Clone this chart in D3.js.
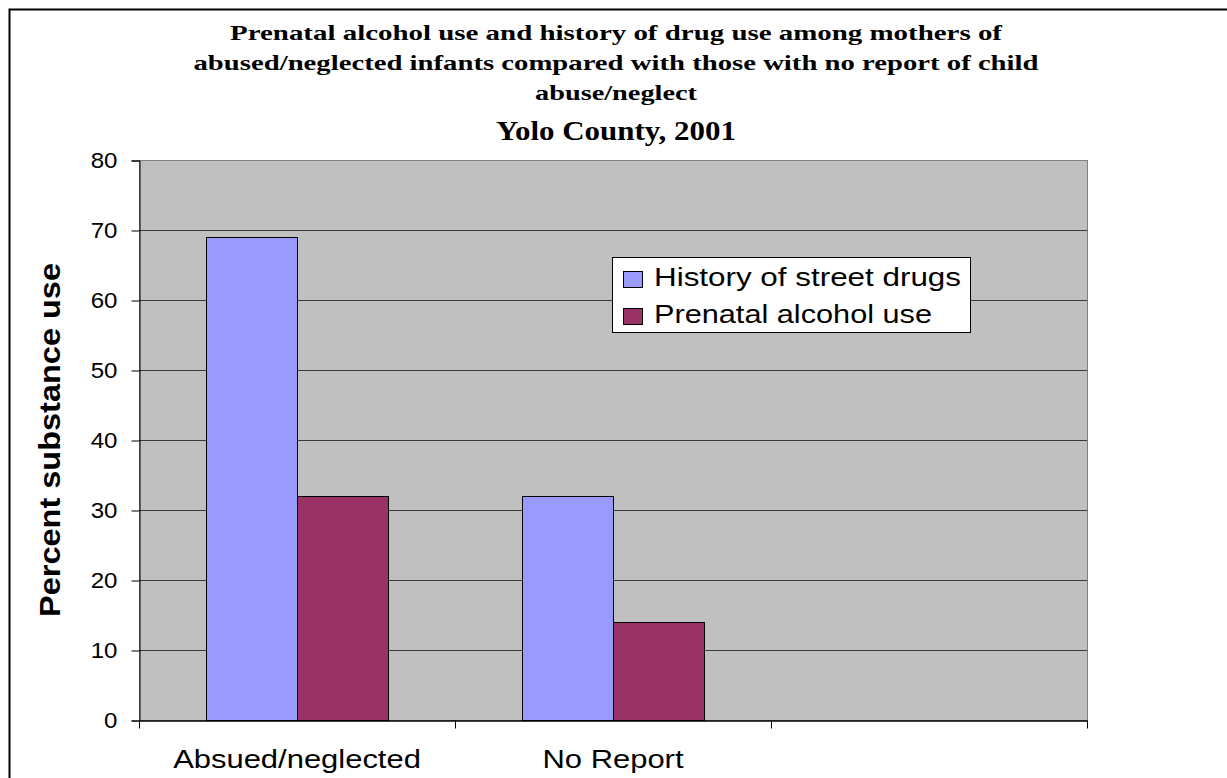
<!DOCTYPE html>
<meta charset="utf-8">
<style>
body { margin: 0; background: #fff; }
svg text { font-family: Arial, "Liberation Sans", sans-serif; fill: #000; }
.title { font-family: "Times New Roman", "Liberation Serif", serif; font-weight: bold; }
</style>
<svg width="1227" height="778"></svg>
<script src="https://d3js.org/d3.v7.min.js"></script>
<script>

var categories = ["Absued/neglected", "No Report", ""];
var series = ["History of street drugs", "Prenatal alcohol use"];
var drugs = [69, 32, null];
var alcohol = [32, 14, null];
var yTicks = [0, 10, 20, 30, 40, 50, 60, 70, 80];
var titleLines = [
  "Prenatal alcohol use and history of drug use among mothers of",
  "abused/neglected infants compared with those with no report of child",
  "abuse/neglect",
  "Yolo County, 2001"
];
var colors = ["#9999FF", "#993366"];

// text in the picture is stretched sideways a bit
var stretch = 1.19;

var svg = d3.select("svg");
var plotL = 139, plotR = 1087, plotT = 160, plotB = 720;

// outer chart border (runs off the right/bottom edge)
svg.append("rect")
    .attr("x", 9.5).attr("y", 9.5)
    .attr("width", 1240).attr("height", 800)
    .attr("fill", "none").attr("stroke", "#000").attr("stroke-width", 2);

var titleWidths = [772, 845, 162, 240];
var titleY = [40, 70, 100, 140];
var titleSize = [22, 22, 22, 27];
svg.selectAll(".title").data(titleLines).enter().append("text")
    .attr("class", "title")
    .attr("x", 616)
    .attr("y", function(d, i) { return titleY[i]; })
    .attr("font-size", function(d, i) { return titleSize[i] + "px"; })
    .attr("text-anchor", "middle")
    .attr("textLength", function(d, i) { return titleWidths[i]; })
    .attr("lengthAdjust", "spacingAndGlyphs")
    .text(function(d) { return d; });

var x = d3.scaleBand().domain(categories).range([plotL, plotR]);
var y = d3.scaleLinear().domain([0, 80]).range([plotB, plotT]);

svg.append("rect")
    .attr("x", plotL + 0.5).attr("y", plotT + 0.5)
    .attr("width", plotR - plotL).attr("height", plotB - plotT)
    .attr("fill", "#C0C0C0").attr("stroke", "#808080");

svg.append("g").selectAll("line").data(yTicks.filter(function(d) { return d > 0 && d < 80; }))
  .enter().append("line")
    .attr("x1", plotL).attr("x2", plotR)
    .attr("y1", function(d) { return Math.round(y(d)) + 0.5; })
    .attr("y2", function(d) { return Math.round(y(d)) + 0.5; })
    .attr("stroke", "#3a3a3a").attr("stroke-width", 1);

var x1 = d3.scaleBand().domain(series).range([0, x.bandwidth()]).paddingOuter(0.736).paddingInner(0);

var data = [];
categories.forEach(function(c, i) {
  if (drugs[i] != null) data.push({cat: c, s: series[0], v: drugs[i], k: 0});
  if (alcohol[i] != null) data.push({cat: c, s: series[1], v: alcohol[i], k: 1});
});

svg.append("g").selectAll("rect").data(data).enter().append("rect")
    .attr("x", function(d) { return Math.round(x(d.cat) + x1(d.s)) + 0.5; })
    .attr("y", function(d) { return Math.round(y(d.v)) + 0.5; })
    .attr("width", Math.round(x1.bandwidth()))
    .attr("height", function(d) { return Math.round(plotB - y(d.v)); })
    .attr("fill", function(d) { return colors[d.k]; })
    .attr("stroke", "#000").attr("stroke-width", 1);

// y axis
var yAxis = svg.append("g")
    .attr("transform", "translate(" + (plotL + 0.5) + ",0.5)")
    .call(d3.axisLeft(y).tickValues(yTicks).tickSize(8).tickPadding(14));
yAxis.select(".domain").attr("stroke", "#000");
yAxis.selectAll(".tick line").attr("stroke", "#000");
yAxis.selectAll("text")
    .attr("font-size", "22px")
    .attr("font-family", "Arial, 'Liberation Sans', sans-serif")
    .attr("fill", "#000")
    .attr("textLength", function(d) { return String(d).length * 13.4; })
    .attr("lengthAdjust", "spacingAndGlyphs");

// x axis
var xAxis = svg.append("g")
    .attr("transform", "translate(0," + (plotB + 0.5) + ")")
    .call(d3.axisBottom(x).tickSize(0));
xAxis.select(".domain").attr("stroke", "#000").attr("stroke-width", 1.5);
xAxis.selectAll("text")
    .attr("y", 47).attr("dy", null)
    .attr("font-size", "26px")
    .attr("font-family", "Arial, 'Liberation Sans', sans-serif")
    .attr("fill", "#000")
    .attr("textLength", function(d) { return d ? this.getComputedTextLength() * stretch : null; })
    .attr("lengthAdjust", "spacingAndGlyphs");
var bounds = [plotL, plotL + x.step(), plotL + 2 * x.step(), plotR];
xAxis.selectAll(".sep").data(bounds).enter().append("line")
    .attr("x1", function(d) { return Math.round(d) + 0.5; })
    .attr("x2", function(d) { return Math.round(d) + 0.5; })
    .attr("y1", 0).attr("y2", 8).attr("stroke", "#000");

svg.append("text")
    .attr("transform", "translate(60,440) rotate(-90)")
    .attr("text-anchor", "middle")
    .attr("font-size", "30px").attr("font-weight", "bold")
    .attr("textLength", 354).attr("lengthAdjust", "spacingAndGlyphs")
    .text("Percent substance use");

// legend
var lg = svg.append("g").attr("transform", "translate(612,257)");
lg.append("rect").attr("x", 0.5).attr("y", 0.5).attr("width", 358).attr("height", 75)
    .attr("fill", "#fff").attr("stroke", "#000");
var legendW = [307, 278];
series.forEach(function(s, i) {
  lg.append("rect").attr("x", 11.5).attr("y", 14.5 + i * 37).attr("width", 19).attr("height", 16)
      .attr("fill", colors[i]).attr("stroke", "#000");
  lg.append("text").attr("x", 42).attr("y", 29 + i * 37)
      .attr("font-size", "26px")
      .attr("textLength", legendW[i]).attr("lengthAdjust", "spacingAndGlyphs")
      .text(s);
});

</script>
